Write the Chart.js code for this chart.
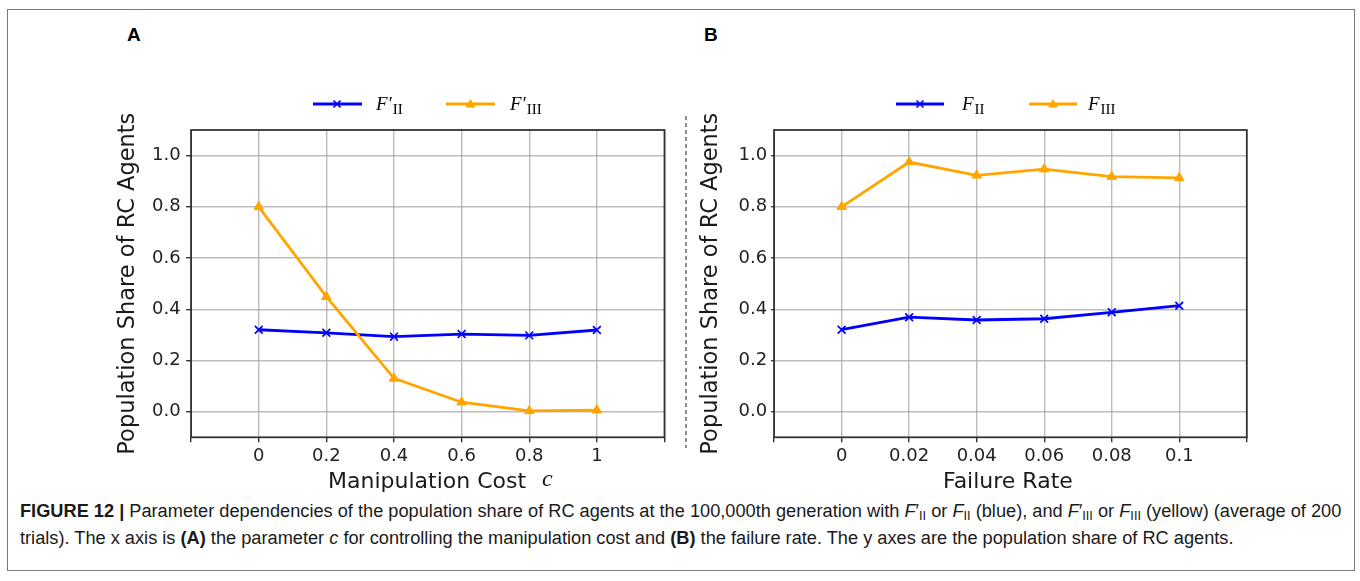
<!DOCTYPE html>
<html><head><meta charset="utf-8">
<script src="https://cdn.jsdelivr.net/npm/chart.js@4.4.1/dist/chart.umd.min.js"></script>
<style>
html,body{margin:0;padding:0;background:#fff;}
#root{position:relative;width:1360px;height:581px;overflow:hidden;font-family:'Liberation Sans',Arial,sans-serif;}
.frame{position:absolute;left:7px;top:9px;width:1348px;height:562px;border:1.5px solid #7a7a7a;box-sizing:border-box;}
.panel{position:absolute;top:25px;font:bold 19px 'Liberation Sans',Arial,sans-serif;line-height:19px;color:#000;}
canvas{position:absolute;}
.leg{position:absolute;top:94px;font:italic 19px 'Liberation Serif','Times New Roman',serif;line-height:19px;color:#000;white-space:nowrap;}
.leg sub{font-style:normal;font-size:15px;vertical-align:-4px;line-height:0;margin-left:1px;}
.legsw{position:absolute;top:97px;}
.xt{position:absolute;top:470px;font:22px 'DejaVu Sans',sans-serif;line-height:22px;color:#1a1a1a;white-space:nowrap;}
.xt i{font-family:'Liberation Serif',serif;font-size:24px;position:absolute;left:214px;top:-3px;}
.cap{position:absolute;left:20px;font-size:16px;line-height:16px;color:#1a1a1a;white-space:nowrap;}
.cap sub{font-size:0.7em;vertical-align:-0.2em;line-height:0;}
</style></head>
<body>
<div id="root">
  <div class="frame"></div>
  <div class="panel" style="left:127px">A</div>
  <div class="panel" style="left:704px">B</div>

  <canvas id="chartA" width="580" height="420" style="left:100px;top:80px"></canvas>
  <canvas id="chartB" width="580" height="420" style="left:690px;top:80px"></canvas>

  <svg class="legsw" style="left:313px" width="49" height="14"><line x1="0" y1="7" x2="49" y2="7" stroke="blue" stroke-width="2.8"/><path d="M20.5 3.5 L27.5 10.5 M27.5 3.5 L20.5 10.5" stroke="blue" stroke-width="1.7"/></svg>
  <div class="leg" style="left:376px">F′<sub>II</sub></div>
  <svg class="legsw" style="left:446px" width="49" height="14"><line x1="0" y1="7" x2="49" y2="7" stroke="#FFA500" stroke-width="2.8"/><path d="M24.5 2 L29.5 10.5 L19.5 10.5 Z" fill="#FFA500"/></svg>
  <div class="leg" style="left:510px">F′<sub>III</sub></div>

  <svg class="legsw" style="left:896px" width="48" height="14"><line x1="0" y1="7" x2="48" y2="7" stroke="blue" stroke-width="2.8"/><path d="M20.5 3.5 L27.5 10.5 M27.5 3.5 L20.5 10.5" stroke="blue" stroke-width="1.7"/></svg>
  <div class="leg" style="left:962px">F<sub>II</sub></div>
  <svg class="legsw" style="left:1029px" width="48" height="14"><line x1="0" y1="7" x2="48" y2="7" stroke="#FFA500" stroke-width="2.8"/><path d="M24 2 L29 10.5 L19 10.5 Z" fill="#FFA500"/></svg>
  <div class="leg" style="left:1088px">F<sub>III</sub></div>

  <svg style="position:absolute;left:684px;top:114px" width="4" height="336"><line x1="2" y1="2" x2="2" y2="334" stroke="#444" stroke-width="1.2" stroke-dasharray="4,3"/></svg>

  <div class="xt" style="left:328px">Manipulation Cost<i>c</i></div>
  <div class="xt" style="left:943px">Failure Rate</div>

  <div class="cap" id="cap1" style="top:503px"><b>FIGURE 12 |</b> Parameter dependencies of the population share of RC agents at the 100,000th generation with <i>F</i>′<sub>II</sub> or <i>F</i><sub>II</sub> (blue), and <i>F</i>′<sub>III</sub> or <i>F</i><sub>III</sub> (yellow) (average of 200</div>
  <div class="cap" id="cap2" style="top:530px">trials). The x axis is <b>(A)</b> the parameter <i>c</i> for controlling the manipulation cost and <b>(B)</b> the failure rate. The y axes are the population share of RC agents.</div>
</div>
<script>
// ---- data ----
const costA = [0, 0.2, 0.4, 0.6, 0.8, 1];
const costLabelsA = ['0', '0.2', '0.4', '0.6', '0.8', '1'];
const shareIIprimeA = [0.32, 0.308, 0.293, 0.303, 0.298, 0.319];
const shareIIIprimeA = [0.80, 0.449, 0.130, 0.037, 0.003, 0.006];

const failRateB = [0, 0.02, 0.04, 0.06, 0.08, 0.1];
const failLabelsB = ['0', '0.02', '0.04', '0.06', '0.08', '0.1'];
const shareIIB = [0.32, 0.369, 0.358, 0.363, 0.388, 0.414];
const shareIIIB = [0.80, 0.975, 0.923, 0.947, 0.918, 0.913];

const yTicks = [0, 0.2, 0.4, 0.6, 0.8, 1.0];
const yTickLabels = ['0.0', '0.2', '0.4', '0.6', '0.8', '1.0'];
const yTitle = 'Population Share of RC Agents';

// ---- caption fit ----
(function(){
  const c1 = document.getElementById('cap1'), c2 = document.getElementById('cap2');
  const w = c1.getBoundingClientRect().width;
  const fs = 16 * 1322 / w;
  c1.style.fontSize = fs + 'px'; c2.style.fontSize = fs + 'px';
})();

const BLUE = '#0000ff', ORANGE = '#FFA500';
const frame = {
  id: 'frame',
  afterDatasetsDraw(chart) {
    const a = chart.chartArea, ctx = chart.ctx;
    ctx.save();
    ctx.strokeStyle = '#333'; ctx.lineWidth = 1.8;
    ctx.strokeRect(a.left, a.top, a.right - a.left, a.bottom - a.top);
    ctx.restore();
  }
};

function makeChart(id, xs, xLabels, xMin, xMax, s1, s2, L) {
  const tickFont = {family: 'DejaVu Sans', size: 18};
  new Chart(document.getElementById(id), {
    type: 'line',
    data: {
      datasets: [
        {data: xs.map((x, i) => ({x: x, y: s1[i]})), borderColor: BLUE, backgroundColor: BLUE,
         borderWidth: 2.8, pointStyle: 'crossRot', pointRadius: 5.5, pointBorderWidth: 1.7, tension: 0, order: 1},
        {data: xs.map((x, i) => ({x: x, y: s2[i]})), borderColor: ORANGE, backgroundColor: ORANGE,
         borderWidth: 2.8, pointStyle: 'triangle', pointRadius: 5.5, pointBorderWidth: 1, tension: 0, order: 0}
      ]
    },
    options: {
      responsive: false, animation: false, devicePixelRatio: 1,
      layout: {padding: {left: 0, top: 50, right: L.right, bottom: 22.7}},
      plugins: {legend: {display: false}, tooltip: {enabled: false}},
      scales: {
        x: {
          type: 'linear', min: xMin, max: xMax,
          afterBuildTicks: s => { s.ticks = [xMin].concat(xs, [xMax]).map(v => ({value: v})); },
          afterFit: s => { s.height = 40; s.paddingLeft = 0; s.paddingRight = 0; },
          ticks: {font: tickFont, color: '#222', padding: 3, maxRotation: 0, autoSkip: false,
                  callback: v => { const i = xs.indexOf(v); return i < 0 ? '' : xLabels[i]; }},
          grid: {color: 'rgba(160,160,160,0.7)', lineWidth: 1.4, tickLength: 5, tickColor: '#333', tickWidth: 1.4},
          border: {display: false}
        },
        y: {
          type: 'linear', min: -0.1, max: 1.1,
          afterBuildTicks: s => { s.ticks = yTicks.map(v => ({value: v})); },
          afterFit: s => { s.width = L.yWidth; s.paddingTop = 0; s.paddingBottom = 0; },
          ticks: {font: tickFont, color: '#222', padding: L.tickPad,
                  callback: v => { const i = yTicks.indexOf(v); return i < 0 ? '' : yTickLabels[i]; }},
          grid: {color: 'rgba(160,160,160,0.7)', lineWidth: 1.4, tickLength: L.tickLen, tickColor: '#333', tickWidth: 1.4},
          border: {display: false},
          title: {display: true, text: yTitle, color: '#1a1a1a', font: {family: 'DejaVu Sans', size: 22.5},
                  padding: {top: L.titlePad, bottom: 0}}
        }
      }
    },
    plugins: [frame]
  });
}

makeChart('chartA', costA, costLabelsA, -0.2, 1.2, shareIIprimeA, shareIIIprimeA,
          {right: 15.5, yWidth: 91.1, tickPad: 5.4, tickLen: 5, titlePad: 15});
makeChart('chartB', failRateB, failLabelsB, -0.02, 0.12, shareIIB, shareIIIB,
          {right: 23.2, yWidth: 84.1, tickPad: 4, tickLen: 3, titlePad: 8});
</script>
</body></html>
